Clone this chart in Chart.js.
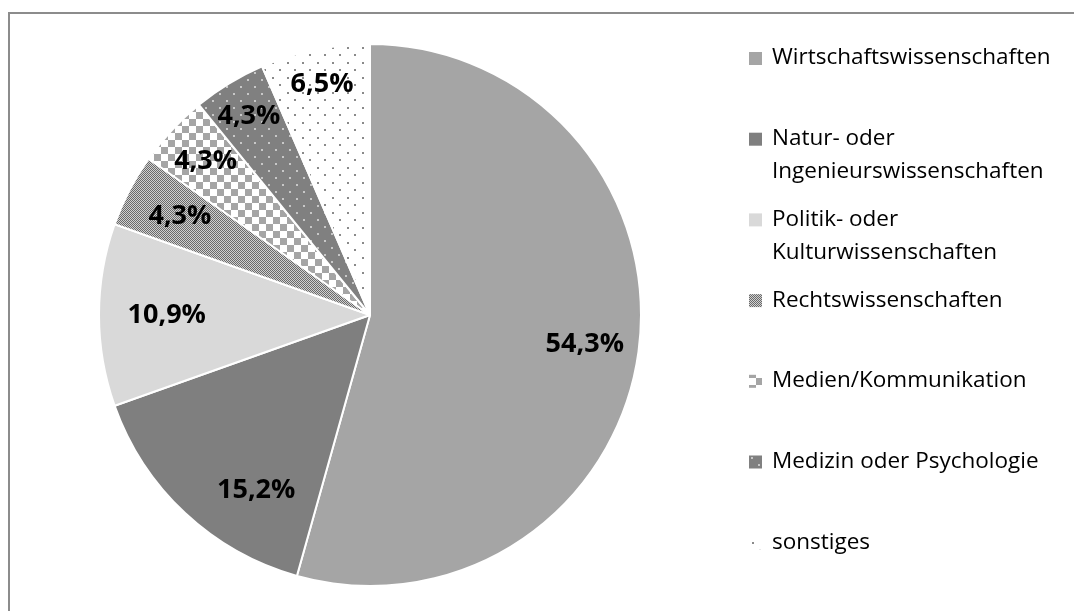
<!DOCTYPE html>
<html lang="de">
<head>
  <meta charset="UTF-8">
  <title>Studienrichtung</title>
  <script src="https://cdn.jsdelivr.net/npm/chart.js"></script>
  <style>
    html, body {
      margin: 0;
      padding: 0;
      background: #fff;
      overflow: hidden;
    }
    .frame {
      position: absolute;
      left: 8px;
      top: 12px;
      width: 1100px;
      height: 700px;
      border-top: 2px solid #8c8c8c;
      border-left: 2px solid #8c8c8c;
    }
    .wrap {
      position: absolute;
      left: 0;
      top: 0;
      width: 1074px;
      height: 611px;
    }
  </style>
</head>
<body>
  <div class="frame"></div>
  <div class="wrap">
    <canvas id="pieChart" width="1074" height="611"></canvas>
  </div>

  <script>
    // data (counts, n = 46)
    var categories = [
      'Wirtschaftswissenschaften',
      'Natur- oder Ingenieurswissenschaften',
      'Politik- oder Kulturwissenschaften',
      'Rechtswissenschaften',
      'Medien/Kommunikation',
      'Medizin oder Psychologie',
      'sonstiges'
    ];
    var legendLines = [
      ['Wirtschaftswissenschaften'],
      ['Natur- oder', 'Ingenieurswissenschaften'],
      ['Politik- oder', 'Kulturwissenschaften'],
      ['Rechtswissenschaften'],
      ['Medien/Kommunikation'],
      ['Medizin oder Psychologie'],
      ['sonstiges']
    ];
    var counts = [25, 7, 5, 2, 2, 2, 3];
    var percentLabels = ['54,3%', '15,2%', '10,9%', '4,3%', '4,3%', '4,3%', '6,5%'];

    // label placement tweaks (fraction of radius, angle shift in degrees)
    var labelRadius = [0.8, 0.77, 0.75, 0.79, 0.83, 0.86, 0.87];
    var labelShift = [0, -10, 0, 0, 0, 0, 0];

    function makePattern(size, draw) {
      var c = document.createElement('canvas');
      c.width = size;
      c.height = size;
      var g = c.getContext('2d');
      draw(g, size);
      return document.createElement('canvas').getContext('2d').createPattern(c, 'repeat');
    }

    var fineCheck = makePattern(2, function (g) {
      g.fillStyle = '#d0d0d0';
      g.fillRect(0, 0, 2, 2);
      g.fillStyle = '#6a6a6a';
      g.fillRect(0, 0, 1, 1);
      g.fillRect(1, 1, 1, 1);
    });
    var bigCheck = makePattern(14, function (g) {
      g.fillStyle = '#ffffff';
      g.fillRect(0, 0, 14, 14);
      g.fillStyle = '#a5a5a5';
      g.fillRect(0, 0, 7, 7);
      g.fillRect(7, 7, 7, 7);
    });
    var darkDots = makePattern(14, function (g) {
      g.fillStyle = '#808080';
      g.fillRect(0, 0, 14, 14);
      g.fillStyle = '#c8c8c8';
      g.fillRect(2, 2, 2, 2);
      g.fillRect(9, 9, 2, 2);
    });
    var lightDots = makePattern(15, function (g) {
      g.fillStyle = '#ffffff';
      g.fillRect(0, 0, 15, 15);
      g.fillStyle = '#8a8a8a';
      g.fillRect(2, 2, 2, 2);
      g.fillRect(9, 9, 2, 2);
    });

    var sliceFills = ['#a5a5a5', '#7f7f7f', '#d9d9d9', fineCheck, bigCheck, darkDots, lightDots];

    var pieLabels = {
      id: 'pieLabels',
      afterDatasetsDraw: function (chart) {
        var ctx = chart.ctx;
        var arcs = chart.getDatasetMeta(0).data;
        ctx.save();
        ctx.font = 'bold 27px "Open Sans"';
        ctx.fillStyle = '#000';
        ctx.textAlign = 'center';
        ctx.textBaseline = 'middle';
        arcs.forEach(function (arc, i) {
          var mid = (arc.startAngle + arc.endAngle) / 2 + labelShift[i] * Math.PI / 180;
          var r = arc.outerRadius * labelRadius[i];
          ctx.fillText(percentLabels[i], arc.x + Math.cos(mid) * r, arc.y + Math.sin(mid) * r);
        });
        ctx.restore();
      }
    };

    var sideLegend = {
      id: 'sideLegend',
      afterDraw: function (chart) {
        var ctx = chart.ctx;
        var fills = chart.data.datasets[0].backgroundColor;
        ctx.save();
        ctx.font = '22.5px "Open Sans"';
        ctx.textBaseline = 'middle';
        legendLines.forEach(function (lines, i) {
          var y = 58 + i * 80.7;
          ctx.fillStyle = fills[i];
          ctx.fillRect(749, y - 6, 13, 13);
          ctx.fillStyle = '#000';
          lines.forEach(function (t, j) {
            ctx.fillText(t, 772, y + j * 33);
          });
        });
        ctx.restore();
      }
    };

    var ctx = document.getElementById('pieChart').getContext('2d');
    var pieChart = new Chart(ctx, {
      type: 'pie',
      data: {
        labels: categories,
        datasets: [{
          data: counts,
          backgroundColor: sliceFills,
          borderColor: '#ffffff',
          borderWidth: 2
        }]
      },
      options: {
        responsive: false,
        animation: false,
        layout: {
          padding: { left: 98, right: 432, top: 43, bottom: 24 }
        },
        plugins: {
          legend: { display: false },
          tooltip: { enabled: false }
        }
      },
      plugins: [pieLabels, sideLegend]
    });
  </script>
</body>
</html>
